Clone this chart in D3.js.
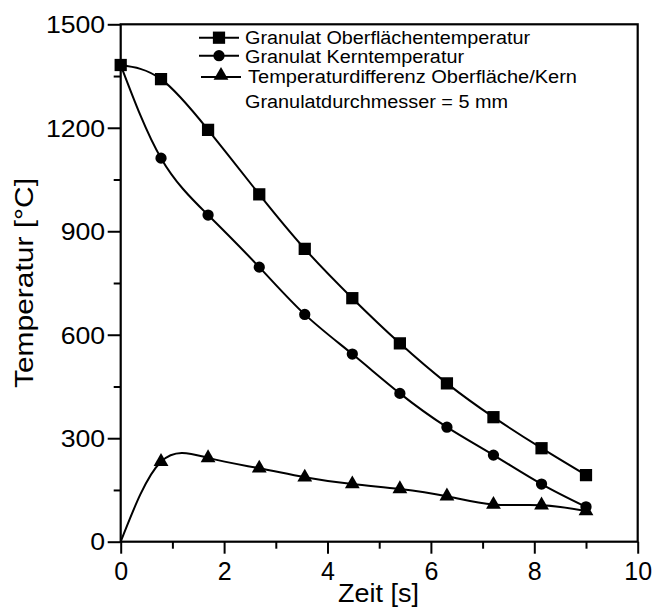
<!DOCTYPE html>
<html>
<head>
<meta charset="utf-8">
<script src="https://cdn.jsdelivr.net/npm/d3@7"></script>
<style>
  body { margin: 0; background: #fff; }
  text { font-family: "Liberation Sans", Arial, sans-serif; fill: #000; }
</style>
</head>
<body>
<svg id="chart" width="654" height="607"></svg>
<script>
// Zeit [s]
const zeit = [0, 0.78, 1.69, 2.68, 3.56, 4.48, 5.4, 6.31, 7.21, 8.14, 9.0];
// Temperaturen [°C]
const oberflaeche = [1382, 1341, 1194, 1007, 849, 706, 575, 459, 361, 271, 193];
const kern = [1382, 1112, 947, 796, 659, 544, 430, 332, 251, 167, 101];
const differenz = [0, 232, 243, 213, 187, 167, 153, 132, 108, 106, 89];

const xTicks = [0, 2, 4, 6, 8, 10];
const xMinor = [1, 3, 5, 7, 9];
const yTicks = [0, 300, 600, 900, 1200, 1500];
const yMinor = [150, 450, 750, 1050, 1350];

const legendNames = [
  "Granulat Oberflächentemperatur",
  "Granulat Kerntemperatur",
  "Temperaturdifferenz Oberfläche/Kern"
];
const noteText = "Granulatdurchmesser = 5 mm";

const svg = d3.select("#chart");
const pLeft = 120.7, pRight = 637.7, pTop = 24.3, pBottom = 541.7;

const x = d3.scaleLinear().domain([0, 10]).range([pLeft, pRight]);
const y = d3.scaleLinear().domain([0, 1500]).range([pBottom, pTop]);

// achsen
const xAxis = svg.append("g").attr("transform", "translate(0," + pBottom + ")")
  .call(d3.axisBottom(x).tickValues(xTicks).tickSize(12).tickFormat(d3.format("d")));
xAxis.select(".domain").remove();
xAxis.selectAll("line").attr("stroke-width", 2);
xAxis.selectAll("text").attr("font-size", 25).attr("y", 0).attr("dy", 38.3);

const xAxisMinor = svg.append("g").attr("transform", "translate(0," + pBottom + ")")
  .call(d3.axisBottom(x).tickValues(xMinor).tickSize(7).tickFormat(""));
xAxisMinor.select(".domain").remove();
xAxisMinor.selectAll("line").attr("stroke-width", 2);

const yAxis = svg.append("g").attr("transform", "translate(" + pLeft + ",0)")
  .call(d3.axisLeft(y).tickValues(yTicks).tickSize(13).tickFormat(d3.format("d")));
yAxis.select(".domain").remove();
yAxis.selectAll("line").attr("stroke-width", 2);
yAxis.selectAll("text").attr("font-size", 23).attr("dy", "0.36em")
  .attr("x", -15.5 / 1.16).attr("transform", "scale(1.16,1)");

const yAxisMinor = svg.append("g").attr("transform", "translate(" + pLeft + ",0)")
  .call(d3.axisLeft(y).tickValues(yMinor).tickSize(7).tickFormat(""));
yAxisMinor.select(".domain").remove();
yAxisMinor.selectAll("line").attr("stroke-width", 2);

// rahmen
svg.append("rect")
  .attr("x", pLeft).attr("y", pTop)
  .attr("width", pRight - pLeft).attr("height", pBottom - pTop)
  .attr("fill", "none").attr("stroke", "#000").attr("stroke-width", 2.2);

// achsentitel
svg.append("text")
  .attr("x", 338).attr("y", 601.5)
  .attr("font-size", 25)
  .attr("textLength", 81).attr("lengthAdjust", "spacingAndGlyphs")
  .text("Zeit [s]");

svg.append("text")
  .attr("transform", "translate(33,388) rotate(-90)")
  .attr("font-size", 25)
  .attr("textLength", 210).attr("lengthAdjust", "spacingAndGlyphs")
  .text("Temperatur [°C]");

// kurven
const series = [oberflaeche, kern, differenz].map(function(vals) {
  return zeit.map(function(t, i) { return {x: t, y: vals[i]}; });
});
const line = d3.line()
  .x(function(d) { return x(d.x); })
  .y(function(d) { return y(d.y); })
  .curve(d3.curveNatural);

series.forEach(function(s) {
  svg.append("path").datum(s)
    .attr("d", line)
    .attr("fill", "none").attr("stroke", "#000").attr("stroke-width", 2);
});

const square = d3.symbol().type(d3.symbolSquare).size(150);
const circle = d3.symbol().type(d3.symbolCircle).size(100);
const triangle = d3.symbol().type(d3.symbolTriangle).size(95);
const symbols = [square, circle, triangle];

series.forEach(function(s, k) {
  // beim dreieck kein marker im ursprung
  const pts = k === 2 ? s.slice(1) : s;
  svg.append("g").selectAll("path")
    .data(pts)
    .enter().append("path")
      .attr("d", symbols[k])
      .attr("transform", function(d) { return "translate(" + x(d.x) + "," + y(d.y) + ")"; })
      .attr("fill", "#000");
});

// legende
const legendRows = [37.7, 55.7, 75.5];
const legendBase = [43.5, 63, 82.7];
const legendWidths = [285, 219, 329];
const legendX = [245, 245, 248];

legendNames.forEach(function(name, i) {
  const g = svg.append("g");
  const dx = i === 2 ? 2 : 0;
  g.append("line")
    .attr("x1", 199 + dx).attr("x2", 239 + dx)
    .attr("y1", legendRows[i] + (i === 2 ? 1.5 : 0)).attr("y2", legendRows[i] + (i === 2 ? 1.5 : 0))
    .attr("stroke", "#000").attr("stroke-width", 2);
  g.append("path")
    .attr("d", symbols[i])
    .attr("transform", "translate(" + (219 + dx) + "," + legendRows[i] + ")")
    .attr("fill", "#000");
  g.append("text")
    .attr("x", legendX[i]).attr("y", legendBase[i])
    .attr("font-size", 18)
    .attr("textLength", legendWidths[i]).attr("lengthAdjust", "spacingAndGlyphs")
    .text(name);
});

svg.append("text")
  .attr("x", 245).attr("y", 107.5)
  .attr("font-size", 18)
  .attr("textLength", 263).attr("lengthAdjust", "spacingAndGlyphs")
  .text(noteText);
</script>
</body>
</html>
